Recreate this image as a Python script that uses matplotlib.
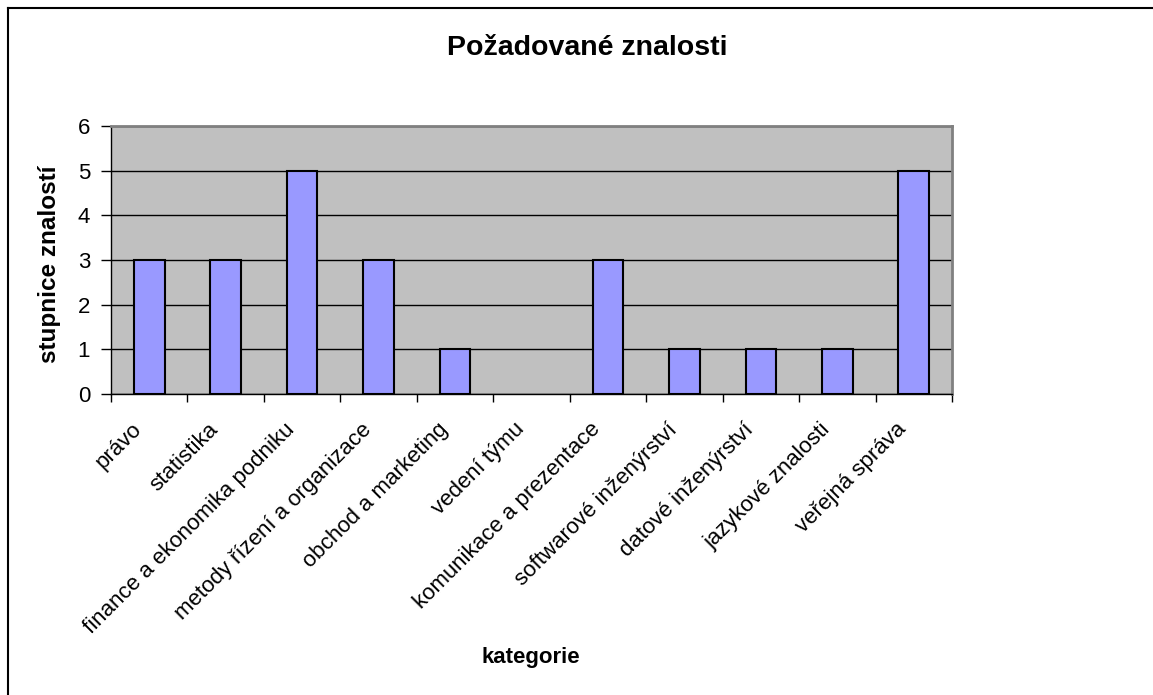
import numpy as np
import matplotlib
matplotlib.use("Agg")
import matplotlib.pyplot as plt
from matplotlib.lines import Line2D
from matplotlib.transforms import ScaledTranslation

plt.rcParams['font.family'] = ['Liberation Sans', 'DejaVu Sans']

categories = ["právo", "statistika", "finance a ekonomika podniku",
              "metody řízení a organizace", "obchod a marketing", "vedení týmu",
              "komunikace a prezentace", "softwarové inženýrství", "datové inženýrství",
              "jazykové znalosti", "veřejná správa"]
values = [3, 3, 5, 3, 1, 0, 3, 1, 1, 1, 5]

title = "Požadované znalosti"
xlabel = "kategorie"
ylabel = "stupnice znalostí"

fig = plt.figure(figsize=(11.53, 6.95), dpi=100)
ax = fig.add_axes([111 / 1153, 1 - 394 / 695, (952 - 111) / 1153, (394 - 126) / 695])
ax.set_facecolor('#C0C0C0')

x = np.arange(len(categories))
bars = ax.bar(x, values, width=0.4, color='#9999FF', edgecolor='black', linewidth=1.5, zorder=3)
for b, v in zip(bars, values):
    if v == 0:
        b.set_visible(False)

ax.set_xlim(-0.5, len(categories) - 0.5)
ax.set_ylim(0, 6)
ax.set_yticks(range(0, 7))
ax.yaxis.grid(True, color='black', linewidth=1, zorder=1)
ax.set_axisbelow(True)

# category ticks sit between bars
ax.set_xticks(np.arange(-0.5, len(categories)), minor=True)
ax.set_xticks(x)
ax.set_xticklabels(categories, rotation=45, ha='right', va='top',
                   rotation_mode='anchor', fontsize=16)
ax.tick_params(axis='x', which='major', length=0, pad=18)
ax.tick_params(axis='x', which='minor', length=6, width=1, direction='out')
ax.tick_params(axis='y', length=7, width=1, labelsize=16, pad=8)
off = ScaledTranslation(-18 / 100, 0, fig.dpi_scale_trans)
for lab in ax.get_xticklabels():
    lab.set_transform(lab.get_transform() + off)

for s in ['left', 'bottom']:
    ax.spines[s].set_color('black')
    ax.spines[s].set_linewidth(1)
for s in ['top', 'right']:
    ax.spines[s].set_color('#808080')
    ax.spines[s].set_linewidth(2)

fig.text(587 / 1153, 1 - 48 / 695, title, ha='center', va='center',
         fontsize=20.5, fontweight='bold')
fig.text(531 / 1153, 1 - 657 / 695, xlabel, ha='center', va='center',
         fontsize=16, fontweight='bold')
fig.text(50 / 1153, 1 - 264 / 695, ylabel, ha='center', va='center',
         rotation=90, fontsize=17.5, fontweight='bold')

# outer chart border (only top and left visible)
fig.add_artist(Line2D([8 / 1153, 8 / 1153], [0, 1 - 8 / 695], color='black', lw=1.5))
fig.add_artist(Line2D([8 / 1153, 1], [1 - 8 / 695, 1 - 8 / 695], color='black', lw=1.5))

fig.savefig("out.png", dpi=100)
